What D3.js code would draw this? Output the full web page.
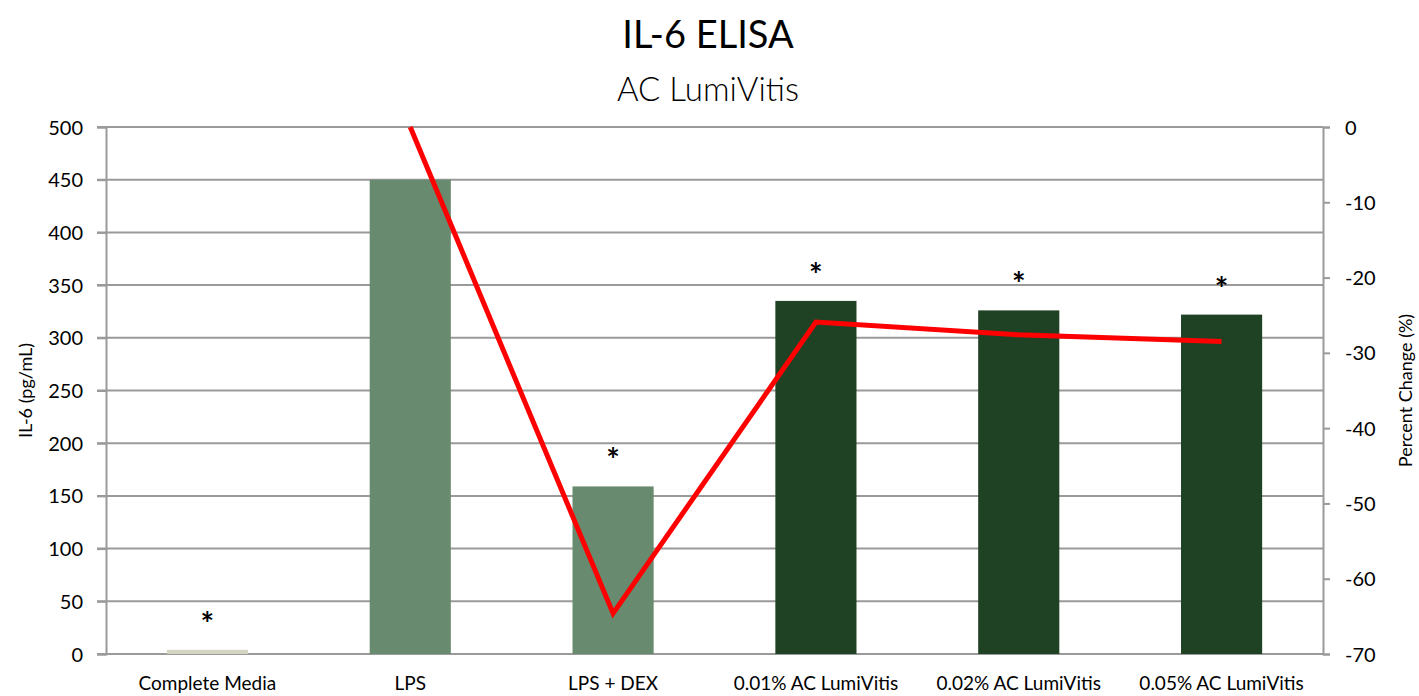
<!DOCTYPE html>
<html>
<head>
<meta charset="utf-8">
<script src="https://cdn.jsdelivr.net/npm/d3@7"></script>
<style>
  body { margin: 0; background: #fff; }
  svg text { font-family: Lato, "Open Sans", sans-serif; fill: #000; }
</style>
</head>
<body>
<svg id="chart" width="1419" height="696"></svg>
<script>
const CATEGORIES = [
  "Complete Media",
  "LPS",
  "LPS + DEX",
  "0.01% AC LumiVitis",
  "0.02% AC LumiVitis",
  "0.05% AC LumiVitis",
];
const IL6_VALUES = [4, 450, 159, 335, 326, 322];
const PERCENT_CHANGE = [null, 0, -64.6, -25.9, -27.6, -28.5];
const SIGNIFICANT = [true, false, true, true, true, true];
const BAR_COLORS = ["#d4d5c1", "#688a6e", "#688a6e", "#1f4224", "#1f4224", "#1f4224"];
const LEFT_TICKS = [0, 50, 100, 150, 200, 250, 300, 350, 400, 450, 500];
const RIGHT_TICKS = [0, -10, -20, -30, -40, -50, -60, -70];

const svg = d3.select("#chart");
const margin = { top: 127, bottom: 42, left: 106, right: 96 };
const width = 1419 - margin.left - margin.right;
const height = 696 - margin.top - margin.bottom;
const g = svg.append("g").attr("transform", `translate(${margin.left},${margin.top})`);

const xScale = d3.scaleBand().domain(CATEGORIES).range([0, width]).paddingInner(0.6).paddingOuter(0.3);
const yLeft = d3.scaleLinear().domain([0, 500]).range([height, 0]);
const yRight = d3.scaleLinear().domain([-70, 0]).range([height, 0]);

// gridlines
g.append("g")
  .selectAll("line")
  .data(LEFT_TICKS)
  .join("line")
  .attr("x1", -9)
  .attr("x2", width)
  .attr("y1", (d) => yLeft(d))
  .attr("y2", (d) => yLeft(d))
  .attr("stroke", "#9a9a9a")
  .attr("stroke-width", 2);

// left axis
const leftAxis = g.append("g")
  .call(d3.axisLeft(yLeft).tickValues(LEFT_TICKS).tickSize(9).tickPadding(14));
leftAxis.select(".domain").attr("stroke", "#9a9a9a").attr("stroke-width", 2);
leftAxis.selectAll(".tick line").attr("stroke", "#9a9a9a").attr("stroke-width", 2);
leftAxis.selectAll("text").style("font-size", "20px").attr("dy", "0.35em");

// right axis
const rightAxis = g.append("g")
  .attr("transform", `translate(${width},0)`)
  .call(d3.axisRight(yRight).tickValues(RIGHT_TICKS).tickSize(7).tickPadding(15).tickFormat((d) => d));
rightAxis.select(".domain").attr("stroke", "#9a9a9a").attr("stroke-width", 2);
rightAxis.selectAll(".tick line").attr("stroke", "#9a9a9a").attr("stroke-width", 2);
rightAxis.selectAll("text").style("font-size", "20px").attr("dy", "0.35em");

// bars
g.append("g")
  .selectAll("rect")
  .data(CATEGORIES)
  .join("rect")
  .attr("x", (d) => xScale(d))
  .attr("width", xScale.bandwidth())
  .attr("y", (d, i) => yLeft(IL6_VALUES[i]))
  .attr("height", (d, i) => height - yLeft(IL6_VALUES[i]))
  .attr("fill", (d, i) => BAR_COLORS[i]);

// asterisks
g.append("g")
  .selectAll("text")
  .data(CATEGORIES.filter((d, i) => SIGNIFICANT[i]))
  .join("text")
  .attr("x", (d) => xScale(d) + xScale.bandwidth() / 2)
  .attr("y", (d) => yLeft(IL6_VALUES[CATEGORIES.indexOf(d)]) - 14)
  .attr("text-anchor", "middle")
  .style("font-size", "32px")
  .style("font-weight", "bold")
  .text("*");

// percent change line
const lineData = CATEGORIES.map((c, i) => ({ c, v: PERCENT_CHANGE[i] })).filter((d) => d.v !== null);
g.append("path")
  .datum(lineData)
  .attr("fill", "none")
  .attr("stroke", "#ff0000")
  .attr("stroke-width", 5)
  .attr("stroke-linejoin", "miter")
  .attr("d", d3.line()
    .x((d) => xScale(d.c) + xScale.bandwidth() / 2)
    .y((d) => yRight(d.v)));

// x labels
g.append("g")
  .selectAll("text")
  .data(CATEGORIES)
  .join("text")
  .attr("x", (d) => xScale(d) + xScale.bandwidth() / 2)
  .attr("y", height + 36)
  .attr("text-anchor", "middle")
  .style("font-size", "19px")
  .text((d) => d);

// titles
svg.append("text")
  .attr("x", 708)
  .attr("y", 48)
  .attr("text-anchor", "middle")
  .style("font-size", "38px")
  .text("IL-6 ELISA");
svg.append("text")
  .attr("x", 708)
  .attr("y", 101)
  .attr("text-anchor", "middle")
  .style("font-size", "33px")
  .style("font-weight", "300")
  .text("AC LumiVitis");

svg.append("text")
  .attr("transform", `translate(32,${margin.top + height / 2}) rotate(-90)`)
  .attr("text-anchor", "middle")
  .style("font-size", "18px")
  .text("IL-6 (pg/mL)");
svg.append("text")
  .attr("transform", `translate(1412,${margin.top + height / 2}) rotate(-90)`)
  .attr("text-anchor", "middle")
  .style("font-size", "18px")
  .text("Percent Change (%)");
</script>
</body>
</html>
